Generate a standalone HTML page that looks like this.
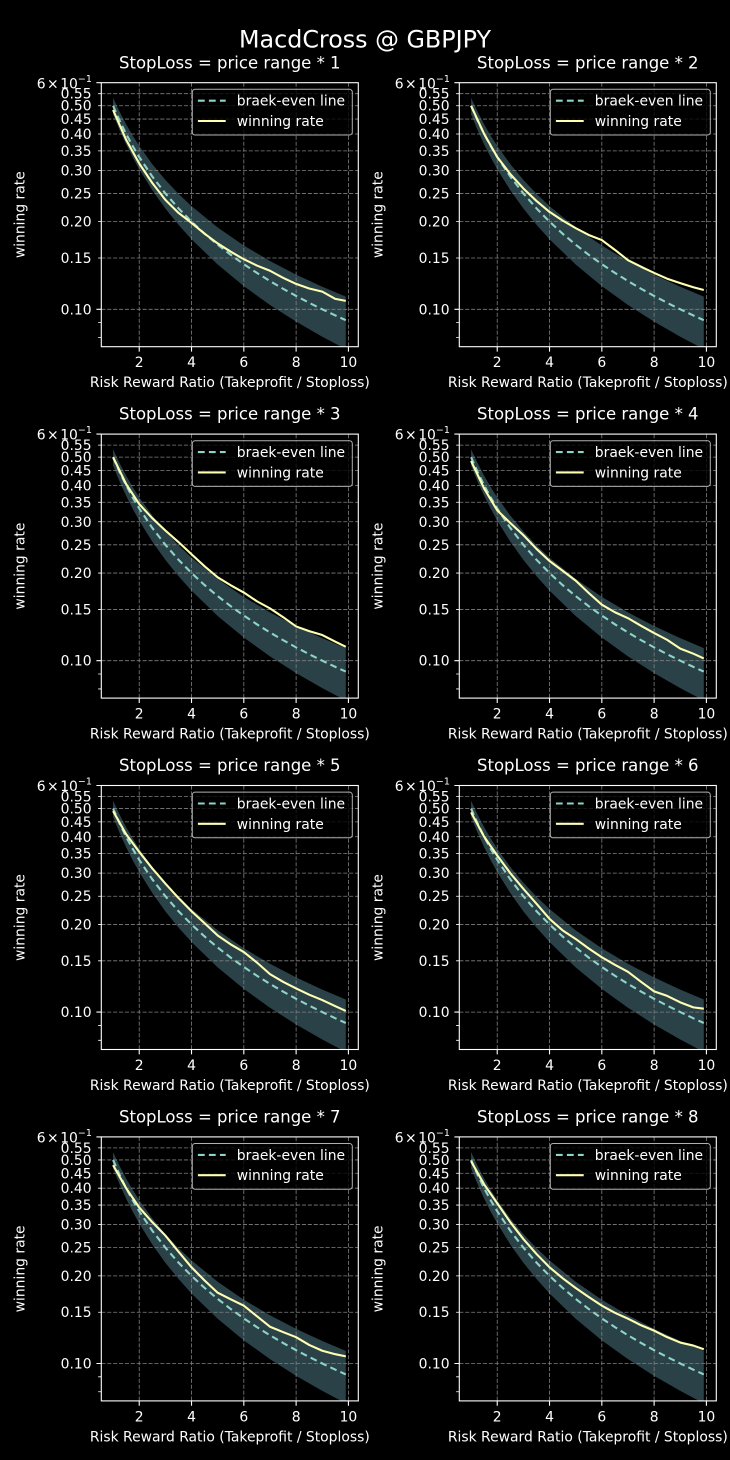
<!DOCTYPE html>
<html><head><meta charset="utf-8">
<style>
html,body{margin:0;padding:0;background:#000;}
svg{display:block}
.tk{font-size:13.9px}
.tt{font-size:16.5px}
</style></head><body>
<svg xmlns="http://www.w3.org/2000/svg" xmlns:xlink="http://www.w3.org/1999/xlink" width="730" height="1460" viewBox="0 0 730 1460" font-family="'DejaVu Sans', 'Liberation Sans', sans-serif" fill="#fff">
<rect width="730" height="1460" fill="#000"/>
<defs>
<clipPath id="c"><rect x="0" y="0" width="257" height="264"/></clipPath>
<g id="under">
 <polygon clip-path="url(#c)" fill="#2a4147" points="11.77,15.09 18.31,29.08 24.84,41.59 31.38,52.89 37.92,63.22 50.99,81.46 64.07,97.22 77.14,111.10 90.22,123.48 116.37,144.83 142.52,162.80 168.67,178.30 194.82,191.93 220.97,204.07 244.50,213.97 244.50,266.43 220.97,254.03 194.82,238.97 168.67,222.25 142.52,203.42 116.37,181.85 90.22,156.55 77.14,142.01 64.07,125.82 50.99,107.55 37.92,86.53 31.38,74.70 24.84,61.77 18.31,47.50 11.77,31.56"/>
 <g stroke="#808080" stroke-width="0.8" stroke-dasharray="4.1 1.8" fill="none">
  <path d="M0 11H257M0 23.06H257M0 36.38H257M0 51.28H257M0 68.16H257M0 87.66H257M0 110.72H257M0 138.94H257M0 175.32H257M0 226.6H257"/>
  <path d="M37.92 0V264M90.22 0V264M142.52 0V264M194.82 0V264M247.12 0V264"/>
 </g>
 <polyline fill="none" stroke="#8dd3c7" stroke-width="2.1" stroke-dasharray="6.8 4.2" points="11.77,23.06 18.31,37.95 24.84,51.28 31.38,63.33 37.92,74.33 50.99,93.83 64.07,110.72 77.14,125.61 90.22,138.94 103.29,150.99 116.37,162.00 129.44,172.12 142.52,181.49 155.59,190.21 168.67,198.38 181.74,206.04 194.82,213.27 207.89,220.11 220.97,226.60 234.04,232.77 244.50,237.50"/>
</g>
<g id="over">
 <rect x="0" y="0" width="257" height="264" fill="none" stroke="#fff" stroke-width="1.1"/>
 <path stroke="#fff" stroke-width="1.1" fill="none" d="M0 0H-4.9M0 226.6H-4.9M37.92 264V268.9M90.22 264V268.9M142.52 264V268.9M194.82 264V268.9M247.12 264V268.9"/>
 <path stroke="#fff" stroke-width="0.8" fill="none" d="M0 11H-3.2M0 23.06H-3.2M0 36.38H-3.2M0 51.28H-3.2M0 68.16H-3.2M0 87.66H-3.2M0 110.72H-3.2M0 138.94H-3.2M0 175.32H-3.2M0 239.92H-3.2M0 254.82H-3.2"/>
 <rect x="91" y="6.6" width="160" height="45.7" rx="2.8" fill="#000" fill-opacity="0.8" stroke="#b0b0b0" stroke-width="1"/>
 <line x1="96.6" y1="18" x2="124.4" y2="18" stroke="#8dd3c7" stroke-width="2.1" stroke-dasharray="6.8 4.2"/>
 <line x1="96.6" y1="38.3" x2="124.4" y2="38.3" stroke="#feffb3" stroke-width="2.1"/>
</g>
</defs>

<text x="365" y="47.3" font-size="23.8" text-anchor="middle">MacdCross @ GBPJPY</text>

<!-- Plot 1 -->
<g transform="translate(101.3,82.7)">
 <use href="#under" xlink:href="#under"/>
 <polyline fill="none" stroke="#feffb3" stroke-width="2.1" stroke-linejoin="round" points="11.77,27.30 24.84,57.10 37.92,80.82 50.99,100.32 64.07,117.21 77.14,130.12 90.22,140.21 103.29,150.99 116.37,160.74 129.44,169.00 142.52,176.53 155.59,182.84 168.67,188.06 181.74,195.14 194.82,201.22 207.89,205.78 220.97,208.92 234.04,216.20 244.50,218.19"/>
 <use href="#over" xlink:href="#over"/>
 <text class="tt" x="128.5" y="-14.4" text-anchor="middle">StopLoss = price range * 1</text>
 <g class="tk" text-anchor="end">
  <text x="-9.7" y="16">0.55</text><text x="-9.7" y="28.06">0.50</text><text x="-9.7" y="41.38">0.45</text><text x="-9.7" y="56.28">0.40</text><text x="-9.7" y="73.16">0.35</text><text x="-9.7" y="92.66">0.30</text><text x="-9.7" y="115.72">0.25</text><text x="-9.7" y="143.94">0.20</text><text x="-9.7" y="180.32">0.15</text><text x="-9.7" y="231.6">0.10</text>
 </g>
 <text class="tk" x="-64.6" y="5.6">6<tspan dx="1.5">×</tspan><tspan dx="1.5">10</tspan><tspan dy="-6.5" font-size="9.5">−1</tspan></text>
 <g class="tk" text-anchor="middle">
  <text x="37.92" y="284.5">2</text><text x="90.22" y="284.5">4</text><text x="142.52" y="284.5">6</text><text x="194.82" y="284.5">8</text><text x="247.12" y="284.5">10</text>
  <text x="128.5" y="304.5">Risk Reward Ratio (Takeprofit / Stoploss)</text>
  <text transform="translate(-77,132) rotate(-90)">winning rate</text>
 </g>
 <text class="tk" x="135.5" y="23">braek-even line</text>
 <text class="tk" x="135.5" y="43.3">winning rate</text>
</g>

<!-- Plot 2 -->
<g transform="translate(459.3,82.7)">
 <use href="#under" xlink:href="#under"/>
 <polyline fill="none" stroke="#feffb3" stroke-width="2.1" stroke-linejoin="round" points="11.77,23.06 24.84,51.28 37.92,74.33 50.99,91.33 64.07,105.76 77.14,118.24 90.22,129.21 103.29,137.79 116.37,145.43 129.44,152.26 142.52,157.38 155.59,167.15 168.67,177.45 181.74,184.04 194.82,190.21 207.89,196.00 220.97,200.42 234.04,204.55 244.50,207.27"/>
 <use href="#over" xlink:href="#over"/>
 <text class="tt" x="128.5" y="-14.4" text-anchor="middle">StopLoss = price range * 2</text>
 <g class="tk" text-anchor="end">
  <text x="-9.7" y="16">0.55</text><text x="-9.7" y="28.06">0.50</text><text x="-9.7" y="41.38">0.45</text><text x="-9.7" y="56.28">0.40</text><text x="-9.7" y="73.16">0.35</text><text x="-9.7" y="92.66">0.30</text><text x="-9.7" y="115.72">0.25</text><text x="-9.7" y="143.94">0.20</text><text x="-9.7" y="180.32">0.15</text><text x="-9.7" y="231.6">0.10</text>
 </g>
 <text class="tk" x="-64.6" y="5.6">6<tspan dx="1.5">×</tspan><tspan dx="1.5">10</tspan><tspan dy="-6.5" font-size="9.5">−1</tspan></text>
 <g class="tk" text-anchor="middle">
  <text x="37.92" y="284.5">2</text><text x="90.22" y="284.5">4</text><text x="142.52" y="284.5">6</text><text x="194.82" y="284.5">8</text><text x="247.12" y="284.5">10</text>
  <text x="128.5" y="304.5">Risk Reward Ratio (Takeprofit / Stoploss)</text>
  <text transform="translate(-77,132) rotate(-90)">winning rate</text>
 </g>
 <text class="tk" x="135.5" y="23">braek-even line</text>
 <text class="tk" x="135.5" y="43.3">winning rate</text>
</g>

<!-- Plot 3 -->
<g transform="translate(101.3,434.1)">
 <use href="#under" xlink:href="#under"/>
 <polyline fill="none" stroke="#feffb3" stroke-width="2.1" stroke-linejoin="round" points="11.77,23.06 24.84,50.02 37.92,69.98 50.99,84.10 64.07,96.39 77.14,107.93 90.22,120.17 103.29,132.22 116.37,143.23 129.44,151.19 142.52,158.43 155.59,167.15 168.67,174.27 181.74,182.98 194.82,192.34 207.89,197.05 220.97,200.93 234.04,207.62 244.50,212.66"/>
 <use href="#over" xlink:href="#over"/>
 <text class="tt" x="128.5" y="-14.4" text-anchor="middle">StopLoss = price range * 3</text>
 <g class="tk" text-anchor="end">
  <text x="-9.7" y="16">0.55</text><text x="-9.7" y="28.06">0.50</text><text x="-9.7" y="41.38">0.45</text><text x="-9.7" y="56.28">0.40</text><text x="-9.7" y="73.16">0.35</text><text x="-9.7" y="92.66">0.30</text><text x="-9.7" y="115.72">0.25</text><text x="-9.7" y="143.94">0.20</text><text x="-9.7" y="180.32">0.15</text><text x="-9.7" y="231.6">0.10</text>
 </g>
 <text class="tk" x="-64.6" y="5.6">6<tspan dx="1.5">×</tspan><tspan dx="1.5">10</tspan><tspan dy="-6.5" font-size="9.5">−1</tspan></text>
 <g class="tk" text-anchor="middle">
  <text x="37.92" y="284.5">2</text><text x="90.22" y="284.5">4</text><text x="142.52" y="284.5">6</text><text x="194.82" y="284.5">8</text><text x="247.12" y="284.5">10</text>
  <text x="128.5" y="304.5">Risk Reward Ratio (Takeprofit / Stoploss)</text>
  <text transform="translate(-77,132) rotate(-90)">winning rate</text>
 </g>
 <text class="tk" x="135.5" y="23">braek-even line</text>
 <text class="tk" x="135.5" y="43.3">winning rate</text>
</g>

<!-- Plot 4 -->
<g transform="translate(459.3,434.1)">
 <use href="#under" xlink:href="#under"/>
 <polyline fill="none" stroke="#feffb3" stroke-width="2.1" stroke-linejoin="round" points="11.77,26.91 24.84,54.48 37.92,76.24 50.99,88.87 64.07,100.99 77.14,114.71 90.22,126.89 103.29,136.66 116.37,146.54 129.44,158.92 142.52,170.59 155.59,178.16 168.67,184.05 181.74,191.71 194.82,198.94 207.89,205.78 220.97,214.55 234.04,219.57 244.50,224.30"/>
 <use href="#over" xlink:href="#over"/>
 <text class="tt" x="128.5" y="-14.4" text-anchor="middle">StopLoss = price range * 4</text>
 <g class="tk" text-anchor="end">
  <text x="-9.7" y="16">0.55</text><text x="-9.7" y="28.06">0.50</text><text x="-9.7" y="41.38">0.45</text><text x="-9.7" y="56.28">0.40</text><text x="-9.7" y="73.16">0.35</text><text x="-9.7" y="92.66">0.30</text><text x="-9.7" y="115.72">0.25</text><text x="-9.7" y="143.94">0.20</text><text x="-9.7" y="180.32">0.15</text><text x="-9.7" y="231.6">0.10</text>
 </g>
 <text class="tk" x="-64.6" y="5.6">6<tspan dx="1.5">×</tspan><tspan dx="1.5">10</tspan><tspan dy="-6.5" font-size="9.5">−1</tspan></text>
 <g class="tk" text-anchor="middle">
  <text x="37.92" y="284.5">2</text><text x="90.22" y="284.5">4</text><text x="142.52" y="284.5">6</text><text x="194.82" y="284.5">8</text><text x="247.12" y="284.5">10</text>
  <text x="128.5" y="304.5">Risk Reward Ratio (Takeprofit / Stoploss)</text>
  <text transform="translate(-77,132) rotate(-90)">winning rate</text>
 </g>
 <text class="tk" x="135.5" y="23">braek-even line</text>
 <text class="tk" x="135.5" y="43.3">winning rate</text>
</g>

<!-- Plot 5 -->
<g transform="translate(101.3,785.5)">
 <use href="#under" xlink:href="#under"/>
 <polyline fill="none" stroke="#feffb3" stroke-width="2.1" stroke-linejoin="round" points="11.77,25.62 24.84,48.78 37.92,66.37 50.99,82.93 64.07,98.09 77.14,112.41 90.22,125.74 103.29,137.79 116.37,149.95 129.44,158.92 142.52,166.59 155.59,177.01 168.67,188.65 181.74,196.31 194.82,202.95 207.89,209.21 220.97,214.55 234.04,220.72 244.50,225.45"/>
 <use href="#over" xlink:href="#over"/>
 <text class="tt" x="128.5" y="-14.4" text-anchor="middle">StopLoss = price range * 5</text>
 <g class="tk" text-anchor="end">
  <text x="-9.7" y="16">0.55</text><text x="-9.7" y="28.06">0.50</text><text x="-9.7" y="41.38">0.45</text><text x="-9.7" y="56.28">0.40</text><text x="-9.7" y="73.16">0.35</text><text x="-9.7" y="92.66">0.30</text><text x="-9.7" y="115.72">0.25</text><text x="-9.7" y="143.94">0.20</text><text x="-9.7" y="180.32">0.15</text><text x="-9.7" y="231.6">0.10</text>
 </g>
 <text class="tk" x="-64.6" y="5.6">6<tspan dx="1.5">×</tspan><tspan dx="1.5">10</tspan><tspan dy="-6.5" font-size="9.5">−1</tspan></text>
 <g class="tk" text-anchor="middle">
  <text x="37.92" y="284.5">2</text><text x="90.22" y="284.5">4</text><text x="142.52" y="284.5">6</text><text x="194.82" y="284.5">8</text><text x="247.12" y="284.5">10</text>
  <text x="128.5" y="304.5">Risk Reward Ratio (Takeprofit / Stoploss)</text>
  <text transform="translate(-77,132) rotate(-90)">winning rate</text>
 </g>
 <text class="tk" x="135.5" y="23">braek-even line</text>
 <text class="tk" x="135.5" y="43.3">winning rate</text>
</g>

<!-- Plot 6 -->
<g transform="translate(459.3,785.5)">
 <use href="#under" xlink:href="#under"/>
 <polyline fill="none" stroke="#feffb3" stroke-width="2.1" stroke-linejoin="round" points="11.77,26.91 24.84,51.28 37.92,69.98 50.99,87.66 64.07,103.35 77.14,118.24 90.22,133.37 103.29,144.82 116.37,153.44 129.44,162.97 142.52,171.76 155.59,179.31 168.67,186.33 181.74,196.31 194.82,205.90 207.89,210.38 220.97,216.87 234.04,221.87 244.50,223.17"/>
 <use href="#over" xlink:href="#over"/>
 <text class="tt" x="128.5" y="-14.4" text-anchor="middle">StopLoss = price range * 6</text>
 <g class="tk" text-anchor="end">
  <text x="-9.7" y="16">0.55</text><text x="-9.7" y="28.06">0.50</text><text x="-9.7" y="41.38">0.45</text><text x="-9.7" y="56.28">0.40</text><text x="-9.7" y="73.16">0.35</text><text x="-9.7" y="92.66">0.30</text><text x="-9.7" y="115.72">0.25</text><text x="-9.7" y="143.94">0.20</text><text x="-9.7" y="180.32">0.15</text><text x="-9.7" y="231.6">0.10</text>
 </g>
 <text class="tk" x="-64.6" y="5.6">6<tspan dx="1.5">×</tspan><tspan dx="1.5">10</tspan><tspan dy="-6.5" font-size="9.5">−1</tspan></text>
 <g class="tk" text-anchor="middle">
  <text x="37.92" y="284.5">2</text><text x="90.22" y="284.5">4</text><text x="142.52" y="284.5">6</text><text x="194.82" y="284.5">8</text><text x="247.12" y="284.5">10</text>
  <text x="128.5" y="304.5">Risk Reward Ratio (Takeprofit / Stoploss)</text>
  <text transform="translate(-77,132) rotate(-90)">winning rate</text>
 </g>
 <text class="tk" x="135.5" y="23">braek-even line</text>
 <text class="tk" x="135.5" y="43.3">winning rate</text>
</g>

<!-- Plot 7 -->
<g transform="translate(101.3,1136.9)">
 <use href="#under" xlink:href="#under"/>
 <polyline fill="none" stroke="#feffb3" stroke-width="2.1" stroke-linejoin="round" points="11.77,28.22 24.84,51.28 37.92,70.59 50.99,85.27 64.07,98.67 77.14,114.71 90.22,130.38 103.29,143.62 116.37,155.83 129.44,162.39 142.52,168.75 155.59,179.31 168.67,189.82 181.74,195.14 194.82,200.30 207.89,208.06 220.97,213.86 234.04,217.31 244.50,219.49"/>
 <use href="#over" xlink:href="#over"/>
 <text class="tt" x="128.5" y="-14.4" text-anchor="middle">StopLoss = price range * 7</text>
 <g class="tk" text-anchor="end">
  <text x="-9.7" y="16">0.55</text><text x="-9.7" y="28.06">0.50</text><text x="-9.7" y="41.38">0.45</text><text x="-9.7" y="56.28">0.40</text><text x="-9.7" y="73.16">0.35</text><text x="-9.7" y="92.66">0.30</text><text x="-9.7" y="115.72">0.25</text><text x="-9.7" y="143.94">0.20</text><text x="-9.7" y="180.32">0.15</text><text x="-9.7" y="231.6">0.10</text>
 </g>
 <text class="tk" x="-64.6" y="5.6">6<tspan dx="1.5">×</tspan><tspan dx="1.5">10</tspan><tspan dy="-6.5" font-size="9.5">−1</tspan></text>
 <g class="tk" text-anchor="middle">
  <text x="37.92" y="284.5">2</text><text x="90.22" y="284.5">4</text><text x="142.52" y="284.5">6</text><text x="194.82" y="284.5">8</text><text x="247.12" y="284.5">10</text>
  <text x="128.5" y="304.5">Risk Reward Ratio (Takeprofit / Stoploss)</text>
  <text transform="translate(-77,132) rotate(-90)">winning rate</text>
 </g>
 <text class="tk" x="135.5" y="23">braek-even line</text>
 <text class="tk" x="135.5" y="43.3">winning rate</text>
</g>

<!-- Plot 8 -->
<g transform="translate(459.3,1136.9)">
 <use href="#under" xlink:href="#under"/>
 <polyline fill="none" stroke="#feffb3" stroke-width="2.1" stroke-linejoin="round" points="11.77,24.33 24.84,47.54 37.92,66.37 50.99,85.27 64.07,102.16 77.14,117.05 90.22,130.38 103.29,141.26 116.37,151.10 129.44,160.07 142.52,168.75 155.59,175.88 168.67,181.81 181.74,188.36 194.82,193.74 207.89,200.25 220.97,205.67 234.04,208.66 244.50,212.35"/>
 <use href="#over" xlink:href="#over"/>
 <text class="tt" x="128.5" y="-14.4" text-anchor="middle">StopLoss = price range * 8</text>
 <g class="tk" text-anchor="end">
  <text x="-9.7" y="16">0.55</text><text x="-9.7" y="28.06">0.50</text><text x="-9.7" y="41.38">0.45</text><text x="-9.7" y="56.28">0.40</text><text x="-9.7" y="73.16">0.35</text><text x="-9.7" y="92.66">0.30</text><text x="-9.7" y="115.72">0.25</text><text x="-9.7" y="143.94">0.20</text><text x="-9.7" y="180.32">0.15</text><text x="-9.7" y="231.6">0.10</text>
 </g>
 <text class="tk" x="-64.6" y="5.6">6<tspan dx="1.5">×</tspan><tspan dx="1.5">10</tspan><tspan dy="-6.5" font-size="9.5">−1</tspan></text>
 <g class="tk" text-anchor="middle">
  <text x="37.92" y="284.5">2</text><text x="90.22" y="284.5">4</text><text x="142.52" y="284.5">6</text><text x="194.82" y="284.5">8</text><text x="247.12" y="284.5">10</text>
  <text x="128.5" y="304.5">Risk Reward Ratio (Takeprofit / Stoploss)</text>
  <text transform="translate(-77,132) rotate(-90)">winning rate</text>
 </g>
 <text class="tk" x="135.5" y="23">braek-even line</text>
 <text class="tk" x="135.5" y="43.3">winning rate</text>
</g>
</svg>
</body></html>
